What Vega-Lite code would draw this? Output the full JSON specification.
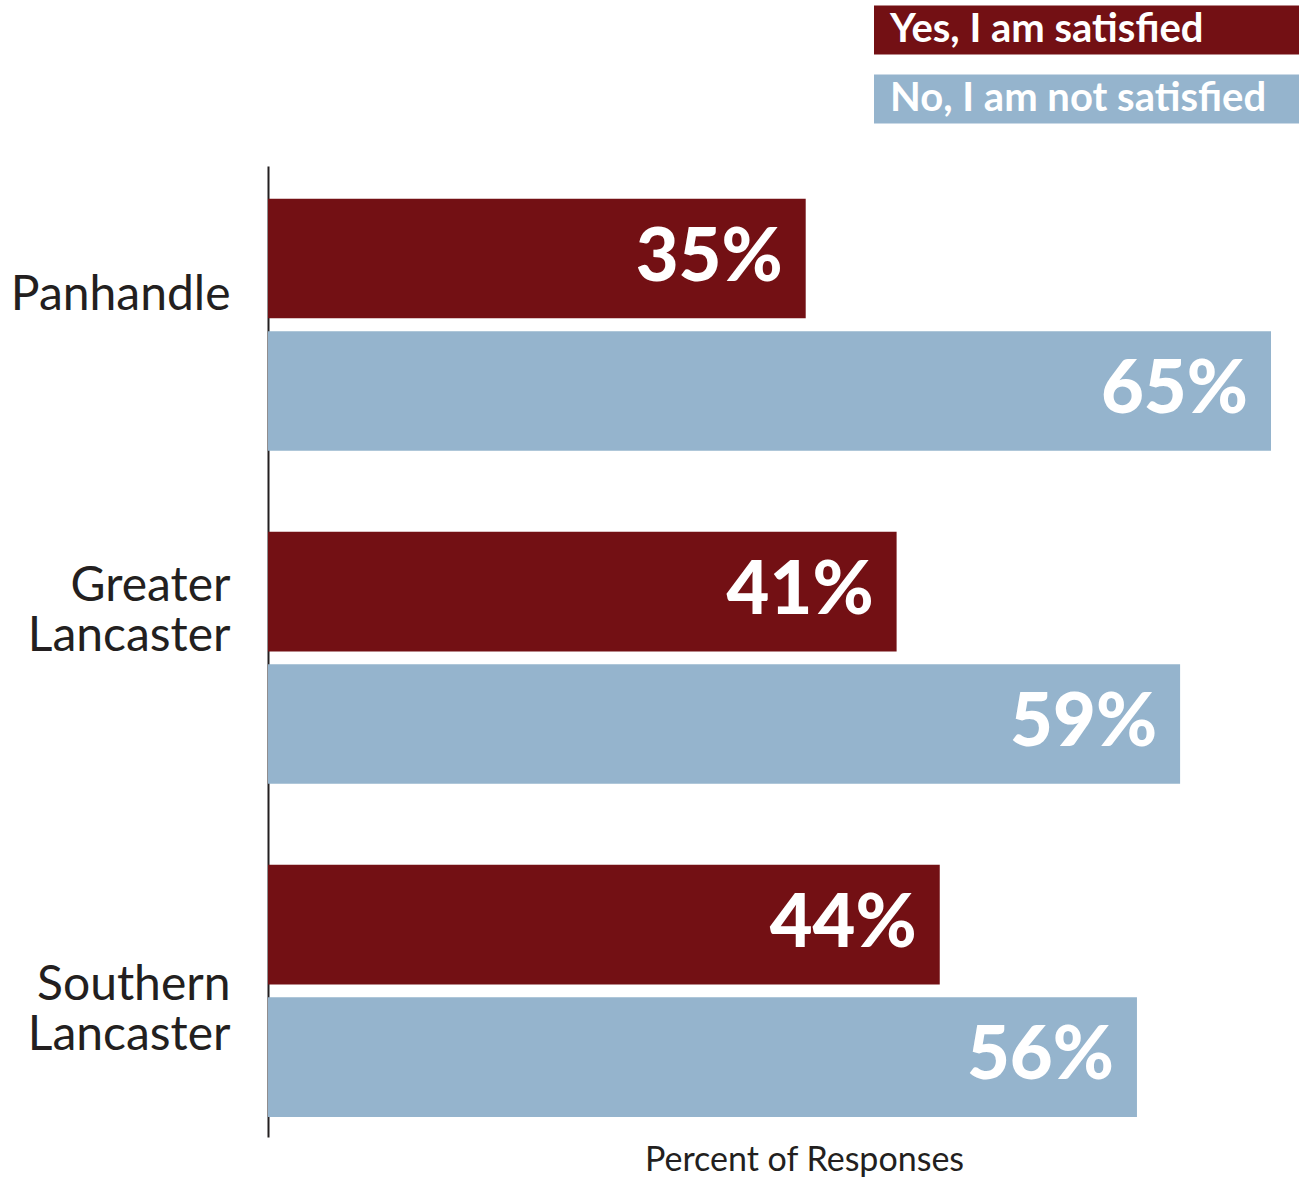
{
  "$schema": "https://vega.github.io/schema/vega-lite/v6.json",
  "width": 1003,
  "height": 971,
  "autosize": {"type": "none"},
  "padding": {"left": 268, "top": 166, "right": 30, "bottom": 42},
  "background": "white",
  "config": {"view": {"stroke": null}, "font": "Lato"},
  "data": {
    "values": [
      {"region": "Panhandle", "response": "Yes, I am satisfied", "pct": 0.349},
      {"region": "Panhandle", "response": "No, I am not satisfied", "pct": 0.651},
      {"region": "Greater Lancaster", "response": "Yes, I am satisfied", "pct": 0.408},
      {"region": "Greater Lancaster", "response": "No, I am not satisfied", "pct": 0.592},
      {"region": "Southern Lancaster", "response": "Yes, I am satisfied", "pct": 0.436},
      {"region": "Southern Lancaster", "response": "No, I am not satisfied", "pct": 0.564}
    ]
  },
  "encoding": {
    "y": {
      "field": "region",
      "type": "nominal",
      "sort": ["Panhandle", "Greater Lancaster", "Southern Lancaster"],
      "scale": {"paddingInner": 0.2432, "paddingOuter": 0.0795, "align": 0.62},
      "axis": {
        "title": null,
        "ticks": false,
        "domainColor": "#231f20",
        "domainWidth": 2,
        "labelFontSize": 48,
        "labelColor": "#231f20",
        "labelPadding": 38,
        "labelLineHeight": 50,
        "labelLimit": 0,
        "labelExpr": "datum.label == 'Panhandle' ? datum.label : split(datum.label, ' ')",
        "labelOffset": {
          "condition": [
            {"test": "datum.value == 'Panhandle'", "value": -29},
            {"test": "datum.value == 'Greater Lancaster'", "value": -71}
          ],
          "value": -5
        }
      }
    },
    "yOffset": {
      "field": "response",
      "type": "nominal",
      "sort": ["Yes, I am satisfied", "No, I am not satisfied"],
      "scale": {"paddingInner": 0.0977, "paddingOuter": 0}
    },
    "x": {
      "field": "pct",
      "type": "quantitative",
      "scale": {"domain": [0, 0.651], "nice": false, "zero": true},
      "axis": {
        "title": "Percent of Responses",
        "titleFontSize": 34,
        "titleFontWeight": "normal",
        "titleColor": "#231f20",
        "titleX": 536,
        "titleAnchor": "middle",
        "titleBaseline": "top",
        "titlePadding": 6,
        "domain": false,
        "ticks": false,
        "labels": false,
        "grid": false
      }
    }
  },
  "layer": [
    {
      "mark": {"type": "bar", "cornerRadius": 0},
      "encoding": {
        "color": {
          "field": "response",
          "type": "nominal",
          "scale": {
            "domain": ["Yes, I am satisfied", "No, I am not satisfied"],
            "range": ["#731014", "#95b4cd"]
          },
          "legend": {
            "title": null,
            "orient": "none",
            "legendX": 606,
            "legendY": -160.5,
            "padding": 0,
            "symbolType": "M-1,-1H16.347V1H-1Z",
            "symbolSize": 2401,
            "symbolStrokeWidth": 0,
            "symbolOpacity": 1,
            "labelColor": "white",
            "labelFontSize": 40,
            "labelFontWeight": "bold",
            "labelOffset": -33,
            "labelLimit": 0,
            "rowPadding": 20
          }
        }
      }
    },
    {
      "mark": {
        "type": "text",
        "align": "right",
        "baseline": "middle",
        "dx": -23,
        "fontSize": 74,
        "fontWeight": 900,
        "color": "white"
      },
      "encoding": {
        "text": {"field": "pct", "type": "quantitative", "format": ".0%"}
      }
    }
  ]
}
